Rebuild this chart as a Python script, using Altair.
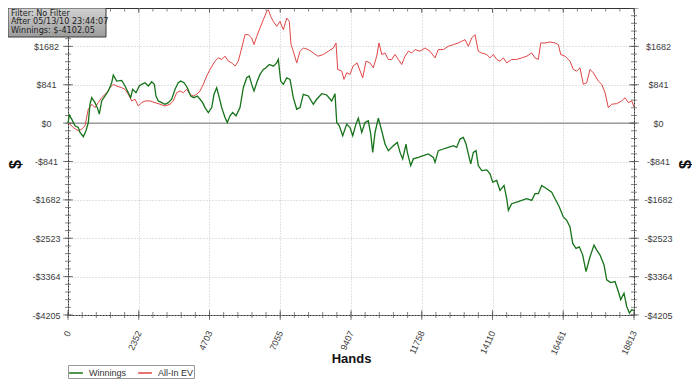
import altair as alt
import pandas as pd

# ---------------- data ----------------
SERIES = ["Winnings", "All-In EV"]
COLORS = ["#16731a", "#e04545"]

W_HANDS = [0,43,123,233,342,399,509,598,675,731,
           788,897,975,1040,1120,1230,1340,1452,1506,1618,
           1785,1895,2005,2084,2150,2260,2370,2450,2560,2670,
           2782,2870,2925,3002,3115,3224,3334,3447,3557,3666,
           3746,3856,3966,4079,4188,4298,4388,4477,4554,4664,
           4777,4853,4943,5029,5109,5219,5295,5385,5475,5584,
           5717,5827,5940,6026,6106,6183,6292,6382,6492,6582,
           6691,6824,6937,6990,7070,7157,7270,7380,7489,7602,
           7712,7821,7988,8154,8267,8433,8600,8765,8875,8932,
           9018,9131,9264,9374,9463,9573,9650,9763,9872,9982,
           10062,10128,10205,10315,10428,10537,10647,10813,10946,11036,
           11125,11235,11279,11391,11478,11644,11810,11976,12143,12199,
           12309,12475,12641,12808,12920,13030,13140,13230,13306,13386,
           13472,13562,13638,13752,13918,14028,14117,14250,14360,14493,
           14582,14636,14749,14915,15081,15247,15413,15523,15633,15746,
           15912,16078,16188,16331,16464,16577,16686,16776,16886,16996,
           17109,17218,17351,17484,17574,17684,17817,17906,18039,18182,
           18292,18372,18481,18571,18658,18738,18813]
W_VALUES = [0,174,87,-59,-96,-205,-299,-168,13,414,
            558,449,340,196,486,595,704,885,1052,922,
            937,813,667,558,741,667,813,850,885,813,
            906,850,595,486,449,414,449,523,741,885,
            922,885,776,595,558,595,523,449,340,231,
            340,632,776,558,340,122,13,159,231,159,
            340,776,994,1031,850,704,922,1068,1177,1212,
            1286,1249,1320,1395,922,850,994,959,558,305,
            340,632,595,414,523,645,617,486,645,13,
            -59,-277,-22,-96,-277,-22,109,-205,13,50,
            -240,-641,-205,109,-168,-458,-604,-495,-423,-641,
            -784,-458,-641,-930,-784,-750,-713,-675,-750,-859,
            -604,-567,-532,-495,-532,-349,-314,-458,-675,-893,
            -641,-604,-930,-1039,-1024,-1111,-1294,-1257,-1475,-1366,
            -1656,-1911,-1765,-1730,-1693,-1656,-1693,-1547,-1547,-1366,
            -1438,-1512,-1656,-1839,-2057,-2129,-2275,-2637,-2746,-2711,
            -2892,-3255,-2929,-2674,-2783,-2892,-3109,-3436,-3495,-3473,
            -3691,-3872,-3726,-4018,-4162,-4090,-4102]

EV_HANDS = [0,66,176,342,455,565,675,788,897,1007,
            1120,1286,1396,1506,1618,1785,1895,2005,2117,2227,
            2337,2450,2560,2726,2892,3058,3224,3390,3500,3613,
            3723,3833,3946,4055,4165,4278,4388,4497,4610,4720,
            4886,4996,5109,5219,5329,5442,5551,5661,5774,5884,
            5993,6106,6183,6273,6382,6492,6605,6658,6738,6824,
            6937,7047,7157,7270,7356,7413,7489,7602,7712,7821,
            7988,8154,8310,8486,8653,8819,8908,8965,9098,9174,
            9264,9374,9474,9607,9796,9906,10038,10148,10261,10338,
            10428,10537,10647,10760,10870,10980,11092,11202,11312,11425,
            11534,11700,11867,12033,12199,12309,12475,12641,12808,12974,
            13087,13196,13306,13419,13529,13638,13752,13918,14028,14137,
            14250,14360,14469,14582,14749,14915,15081,15247,15413,15523,
            15633,15713,15856,16022,16188,16298,16378,16521,16686,16796,
            16909,17019,17128,17241,17351,17460,17627,17740,17850,17960,
            18073,18239,18405,18515,18625,18738,18813]
EV_VALUES = [0,-22,-96,-168,-131,-59,305,414,340,449,
             558,667,776,850,813,776,741,632,486,523,
             377,449,486,486,449,414,377,414,486,667,
             704,667,741,632,595,632,704,850,1031,1177,
             1358,1429,1395,1466,1358,1320,1249,1358,1647,1939,
             1939,1865,1721,1902,2083,2266,2447,2484,2338,2229,
             2120,2229,2048,2301,2229,1721,1575,1320,1575,1647,
             1612,1538,1466,1504,1575,1647,1756,1177,1140,959,
             1103,1068,1249,1320,994,1358,1320,1212,1466,1756,
             1504,1538,1395,1395,1504,1395,1286,1466,1575,1538,
             1612,1575,1647,1575,1429,1612,1612,1684,1721,1756,
             1793,1830,1684,1865,1939,1575,1538,1504,1429,1504,
             1395,1358,1429,1320,1395,1395,1429,1466,1538,1429,
             1395,1756,1756,1778,1756,1721,1504,1466,1358,1177,
             1140,1212,850,885,1177,1103,922,850,667,340,
             414,427,486,558,449,486,355]

X_TICKS = [0, 2352, 4703, 7055, 9407, 11758, 14110, 16461, 18813]
Y_TICKS = [-4205, -3364, -2523, -1682, -841, 0, 841, 1682]
Y_MIN, Y_MAX = -4205, 2523
INFO_LINES = ["Filter: No Filter", "After 05/13/10 23:44:07", "Winnings: $-4102.05"]

# ---------------- derived tables ----------------
X_MAX = X_TICKS[-1]
x_major = [X_MAX * i / 8 for i in range(9)]
x_minor = [X_MAX * i / 40 for i in range(41)]
y_major = [Y_MIN + (Y_MAX - Y_MIN) * i / 8 for i in range(9)]
y_minor = [Y_MIN + (Y_MAX - Y_MIN) * i / 40 for i in range(41)]

df_w = pd.DataFrame({"hands": W_HANDS, "value": W_VALUES, "series": SERIES[0]})
df_w["i"] = range(len(df_w))
df_ev = pd.DataFrame({"hands": EV_HANDS, "value": EV_VALUES, "series": SERIES[1]})
df_ev["i"] = range(len(df_ev))

FONT = "Liberation Sans"
LABEL_COLOR = "#3c3c3c"
GRID_COLOR = "#c4c4c4"
TICK_COLOR = "#505050"

xs = alt.Scale(domain=[0, X_MAX], nice=False, zero=False)
ys = alt.Scale(domain=[Y_MIN, Y_MAX], nice=False, zero=False)
dollar = "(datum.value < 0 ? '-$' : '$') + format(abs(datum.value), 'd')"

x_axis = alt.Axis(
    values=X_TICKS, format="d", labelAngle=-65, labelAlign="right",
    labelBaseline="middle", labelPadding=16, labelFlush=False, labelOverlap=False,
    labelFont=FONT, labelFontSize=9, labelColor=LABEL_COLOR,
    ticks=False, domain=False, grid=True, gridColor=GRID_COLOR, gridDash=[1, 2],
    title="Hands", titleFont=FONT, titleFontSize=13, titleFontWeight="bold",
    titleColor="#111", titleY=43, titleBaseline="middle", orient="bottom",
)
y_left = alt.Axis(
    values=Y_TICKS, labelExpr=dollar, orient="left", labelAlign="center",
    labelBaseline="middle", labelPadding=22, labelFlush=False, labelOverlap=False,
    labelFont=FONT, labelFontSize=9, labelColor=LABEL_COLOR,
    ticks=False, domain=False, grid=True, gridColor=GRID_COLOR, gridDash=[1, 2],
    title="$", titleFont=FONT, titleFontSize=16, titleFontWeight="bold",
    titleColor="#111", titleAngle=-90, titleX=-53, titleY=156,
    titleAlign="center", titleBaseline="middle",
)
y_right = alt.Axis(
    values=Y_TICKS, labelExpr=dollar, orient="right", labelAlign="center",
    labelBaseline="middle", labelPadding=24, labelFlush=False, labelOverlap=False,
    labelFont=FONT, labelFontSize=9, labelColor=LABEL_COLOR,
    ticks=False, domain=False, grid=False,
    title="$", titleFont=FONT, titleFontSize=16, titleFontWeight="bold",
    titleColor="#111", titleAngle=-90, titleX=51, titleY=156,
    titleAlign="center", titleBaseline="middle",
)

legend = alt.Legend(
    orient="none", legendX=0, legendY=357, direction="horizontal", title=None,
    symbolType="stroke", symbolSize=190, symbolStrokeWidth=1.5,
    labelFont=FONT, labelFontSize=9, labelColor="#333", labelOffset=5,
    strokeColor="#999", fillColor="white", padding=0, columnPadding=8,
    offset=0,
)
color = alt.Color("series:N", scale=alt.Scale(domain=SERIES, range=COLORS), legend=legend)

# ---------------- layers ----------------
zero = alt.Chart(pd.DataFrame({"z": [0]})).mark_rule(color="#6e6e6e", strokeWidth=1).encode(
    y=alt.Y("z:Q", scale=ys, axis=None)
)

ev_line = alt.Chart(df_ev).mark_line(strokeWidth=1).encode(
    x=alt.X("hands:Q", scale=xs, axis=None),
    y=alt.Y("value:Q", scale=ys, axis=y_left),
    color=color, order="i:Q",
)
w_line = alt.Chart(df_w).mark_line(strokeWidth=1.3).encode(
    x=alt.X("hands:Q", scale=xs, axis=None),
    y=alt.Y("value:Q", scale=ys, axis=None),
    color=color, order="i:Q",
)

def vticks(pos, yval, size, axis=None):
    d = pd.DataFrame({"t": pos, "edge": yval})
    return alt.Chart(d).mark_tick(
        orient="vertical", size=size, thickness=1, color=TICK_COLOR).encode(
        x=alt.X("t:Q", scale=xs, axis=axis),
        y=alt.Y("edge:Q", scale=ys, axis=None),
    )

def hticks(pos, xval, size, axis=None):
    d = pd.DataFrame({"t": pos, "edge": xval})
    return alt.Chart(d).mark_tick(
        orient="horizontal", size=size, thickness=1, color=TICK_COLOR).encode(
        y=alt.Y("t:Q", scale=ys, axis=axis),
        x=alt.X("edge:Q", scale=xs, axis=None),
    )

tick_layers = [
    vticks(x_minor, Y_MIN, 6), vticks(x_major, Y_MIN, 10, axis=x_axis),
    vticks(x_minor, Y_MAX, 7), vticks(x_major, Y_MAX, 10),
    hticks(y_minor, 0, 6), hticks(y_major, 0, 10),
    hticks(y_minor, X_MAX, 6), hticks(y_major, X_MAX, 10, axis=y_right),
]

info_box = alt.Chart(pd.DataFrame({"b": [0]})).mark_rect(
    fill=alt.LinearGradient(gradient="linear", x1=0, y1=0, x2=0, y2=1,
                            stops=[alt.GradientStop(color="#d2d2d2", offset=0),
                                   alt.GradientStop(color="#9c9c9c", offset=1)]),
    stroke="#3a3a3a", strokeWidth=1,
).encode(x=alt.value(-60), x2=alt.value(38), y=alt.value(0), y2=alt.value(29))

info_text = alt.Chart(pd.DataFrame({"info": ["\n".join(INFO_LINES)]})).mark_text(
    align="left", baseline="top", lineBreak="\n", lineHeight=8.7,
    font="DejaVu Sans", fontSize=8.1, color="#1e1e1e",
).encode(text="info:N", x=alt.value(-57), y=alt.value(1.5))

chart = alt.layer(
    zero, *tick_layers, ev_line, w_line, info_box, info_text
).resolve_axis(x="independent", y="independent").properties(
    width=566, height=307,
    padding={"left": 60, "top": 0, "right": 58, "bottom": 68},
    autosize=alt.AutoSizeParams(type="none"),
    background="white",
).configure_view(stroke="#333", strokeWidth=1)

chart.save("out.html", embed_options={"renderer": "svg", "actions": False})
